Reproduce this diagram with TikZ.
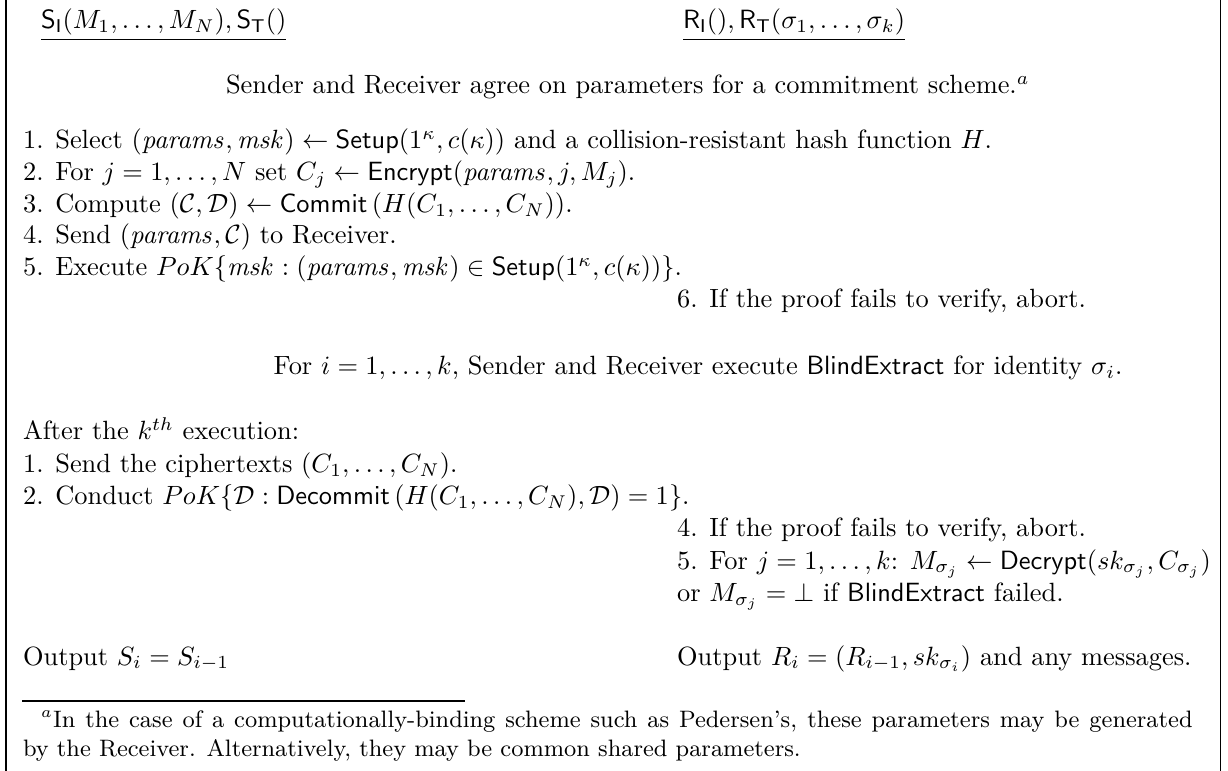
\documentclass[tikz,border=0pt]{standalone}
\usepackage{amsmath}
\newcommand{\alg}[1]{\mathsf{#1}}
\begin{document}
\begin{tikzpicture}[thick]
\useasboundingbox (0,0) rectangle (16.348,10.264);
%%%%%%%%%%%%%%%%%%%%%%%%%%%%%%% frame (sides only)
\draw[thin] (0.08,0) -- (0.08,10.264);
\draw[thin] (16.242,0) -- (16.242,10.264);
%%%%%%%%%%%%%%%%%%%%%%%%%%%%%%% parties
\node[rectangle, draw=none, anchor=base west, inner sep=0](sndHead) at (0.533,9.880){$\underline{\alg{S}_\alg{I}(M_1,\ldots,M_N),\alg{S}_\alg{T}()}$};
\node[rectangle, draw=none, anchor=base west, inner sep=0](rcvHead) at (9.08,9.880){$\underline{\alg{R}_\alg{I}(),\alg{R}_\alg{T}(\sigma_1,\ldots,\sigma_k)}$};
%%%%%%%%%%%%%%%%%%%%%%%%%%%%%%% commitment parameters
\node[rectangle, draw=none, anchor=base west, inner sep=0](agree) at (2.995,9.013){Sender and Receiver agree on parameters for a commitment scheme.$^a$};
%%%%%%%%%%%%%%%%%%%%%%%%%%%%%%% sender, initialization
\node[rectangle, draw=none, anchor=base west, inner sep=0](sA) at (0.293,8.285){1. Select $(\mathit{params},\mathit{msk})\leftarrow\alg{Setup}(1^\kappa,c(\kappa))$ and a collision-resistant hash function $H$.};
\node[rectangle, draw=none, anchor=base west, inner sep=0](sB) at (0.293,7.859){2. For $j=1,\ldots,N$ set $C_j\leftarrow\alg{Encrypt}(\mathit{params},j,M_j)$.};
\node[rectangle, draw=none, anchor=base west, inner sep=0](sC) at (0.293,7.433){3. Compute $(\mathcal{C},\mathcal{D})\leftarrow\alg{Commit}\,(H(C_1,\ldots,C_N))$.};
\node[rectangle, draw=none, anchor=base west, inner sep=0](sD) at (0.293,7.020){4. Send $(\mathit{params},\mathcal{C})$ to Receiver.};
\node[rectangle, draw=none, anchor=base west, inner sep=0](sE) at (0.293,6.594){5. Execute $PoK\{\mathit{msk}:(\mathit{params},\mathit{msk})\in\alg{Setup}(1^\kappa,c(\kappa))\}$.};
\node[rectangle, draw=none, anchor=base west, inner sep=0](rF) at (9.0,6.168){6. If the proof fails to verify, abort.};
%%%%%%%%%%%%%%%%%%%%%%%%%%%%%%% blind extraction
\node[rectangle, draw=none, anchor=base west, inner sep=0](blind) at (3.63,5.272){For $i=1,\ldots,k$, Sender and Receiver execute $\alg{BlindExtract}$ for identity $\sigma_i$.};
%%%%%%%%%%%%%%%%%%%%%%%%%%%%%%% transfer
\node[rectangle, draw=none, anchor=base west, inner sep=0](after) at (0.293,4.407){After the $k^{th}$ execution:};
\node[rectangle, draw=none, anchor=base west, inner sep=0](tA) at (0.293,3.977){1. Send the ciphertexts $(C_1,\ldots,C_N)$.};
\node[rectangle, draw=none, anchor=base west, inner sep=0](tB) at (0.293,3.548){2. Conduct $PoK\{\mathcal{D}:\alg{Decommit}\,(H(C_1,\ldots,C_N),\mathcal{D})=1\}$.};
\node[rectangle, draw=none, anchor=base west, inner sep=0](rD) at (9.0,3.118){4. If the proof fails to verify, abort.};
\node[rectangle, draw=none, anchor=base west, inner sep=0](rE) at (9.0,2.689){5. For $j=1,\ldots,k$: $M_{\sigma_j}\leftarrow\alg{Decrypt}(sk_{\sigma_j},C_{\sigma_j})$};
\node[rectangle, draw=none, anchor=base west, inner sep=0](rF2) at (9.0,2.259){or $M_{\sigma_j}=\bot$ if $\alg{BlindExtract}$ failed.};
%%%%%%%%%%%%%%%%%%%%%%%%%%%%%%% outputs
\node[rectangle, draw=none, anchor=base west, inner sep=0](outS) at (0.293,1.411){Output $S_i=S_{i-1}$};
\node[rectangle, draw=none, anchor=base west, inner sep=0](outR) at (9.0,1.411){Output $R_i=(R_{i-1},sk_{\sigma_i})$ and any messages.};
%%%%%%%%%%%%%%%%%%%%%%%%%%%%%%% footnote
\coordinate (fnL) at (0.293,0.932);
\coordinate (fnR) at (6.19,0.932);
\draw[thin] (fnL) -- (fnR);
\node[rectangle, draw=none, anchor=north west, inner sep=0, text width=15.57cm, align=justify, font=\small](fn) at (0.293,0.82){\hspace*{0.24cm}$^a$In the case of a computationally-binding scheme such as Pedersen's, these parameters may be generated\linebreak by the Receiver. Alternatively, they may be common shared parameters.};
\end{tikzpicture}
\end{document}
